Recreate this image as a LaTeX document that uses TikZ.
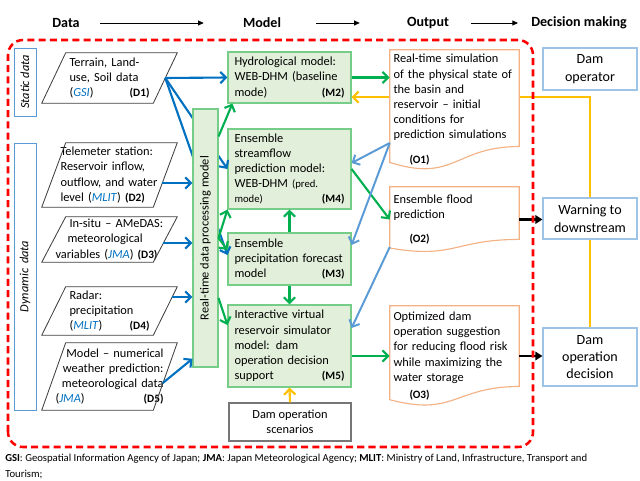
\documentclass[tikz,border=0pt]{standalone}
\usepackage{fontspec}
\setmainfont{Carlito}
\usepackage{xcolor}
\usepackage{graphicx}
\usepackage{tikz}
\usetikzlibrary{arrows.meta,calc}
\definecolor{arrowblue}{RGB}{0,112,192}
\definecolor{arrowgreen}{RGB}{0,176,80}
\definecolor{arrowyellow}{RGB}{255,192,0}
\definecolor{lightblue}{RGB}{91,155,213}
\definecolor{paleblue}{RGB}{157,195,230}
\definecolor{modelgreen}{RGB}{118,205,135}
\definecolor{modelfill}{RGB}{226,239,218}
\definecolor{outorange}{RGB}{244,177,131}
\definecolor{scengray}{RGB}{118,118,118}

\newcommand{\idtag}[1]{{\fontsize{8}{10.8}\selectfont\bfseries(#1)}}
\newcommand{\agency}[1]{\textcolor{arrowblue}{\textit{#1}}}
\newcommand{\smallfnt}{\fontsize{7.6}{10.8}\selectfont}

\tikzset{
  bodytext/.style={font=\fontsize{8.8}{10.8}\selectfont},
  head/.style={font=\bfseries\fontsize{10}{12}\selectfont, inner sep=0pt},
  headarr/.style={line width=0.5pt, -{Triangle[length=4pt,width=3.5pt]}},
  sidebox/.style={bodytext, draw=lightblue, line width=0.6pt, minimum width=0.55cm, inner sep=0pt},
  datanode/.style={bodytext, minimum width=3.375cm, inner sep=0pt},
  datashape/.style={draw=black!75, line width=0.6pt},
  modelbox/.style={bodytext, draw=modelgreen, fill=modelfill, line width=0.8pt,
    minimum width=3.075cm, text width=2.75cm, inner xsep=0.1625cm, inner ysep=0pt, align=left},
  procbox/.style={bodytext, draw=modelgreen, fill=modelfill, line width=0.8pt,
    minimum width=0.625cm, minimum height=6.45cm, inner sep=0pt},
  outbox/.style={bodytext, fill=white, minimum width=3.225cm, text width=3.05cm,
    inner xsep=0.0875cm, inner ysep=0pt, align=left},
  outshape/.style={draw=outorange, line width=0.8pt},
  decbox/.style={draw=paleblue, line width=0.8pt, fill=white, minimum width=2.35cm,
    align=center, inner sep=0pt, font=\fontsize{10}{12.4}\selectfont},
  scenbox/.style={bodytext, draw=scengray, line width=0.8pt, minimum width=3.05cm,
    minimum height=0.95cm, align=center, inner sep=0pt},
  bluearr/.style={draw=arrowblue, line width=1.5pt, -{Straight Barb[length=4pt,width=8pt]}},
  greenarr/.style={draw=arrowgreen, line width=1.5pt, -{Straight Barb[length=4pt,width=8pt]}},
  yellowarr/.style={draw=arrowyellow, line width=1.5pt, -{Straight Barb[length=4pt,width=8pt]}},
  yellowline/.style={draw=arrowyellow, line width=1.5pt},
  ltbluearr/.style={draw=lightblue, line width=1.4pt, -{Straight Barb[length=4pt,width=8pt]}},
  blackarr/.style={draw=black, line width=1.5pt, -{Triangle[length=5pt,width=6pt]}},
  redframe/.style={draw=red, line width=1.8pt, dash pattern=on 5pt off 3pt, rounded corners=0.375cm},
  foot/.style={font=\fontsize{7.6}{11}\selectfont, align=left, inner sep=0pt}
}

\begin{document}
\begin{tikzpicture}
  \useasboundingbox (0,0) rectangle (16,12);

  % header
  \node[head] (hdata) at (1.65,11.425) {Data};
  \node[head] (hmodel) at (6.55,11.425) {Model};
  \node[head] (hout) at (10.7,11.425) {Output};
  \node[head] (hdec) at (14.475,11.425) {Decision making};
  \draw[headarr] ([xshift=0.5cm]hdata.east) -- ([xshift=-0.975cm]hmodel.west);
  \draw[headarr] ([xshift=0.875cm]hmodel.east) -- ([xshift=-1.175cm]hout.west);
  \draw[headarr] ([xshift=0.55cm]hout.east) -- ([xshift=-0.325cm]hdec.west);

  % data
  \node[sidebox, minimum height=1.7cm] (static) at (0.625,9.95) {\rotatebox{90}{\itshape Static data}};
  \node[sidebox, minimum height=6.675cm] (dynamic) at (0.625,5.0875) {\rotatebox{90}{\itshape Dynamic\, data}};

  \node[datanode, minimum height=1.25cm, text width=2.0cm, align=left] (d1) at (2.7375,10.05)
    {Terrain, Land-\\use, Soil data\\(\agency{GSI})\hfill\idtag{D1}};
  \node[datanode, minimum height=1.6cm, text width=2.45cm, align=left] (d2) at (2.7375,7.625)
    {Telemeter station:\\Reservoir inflow,\\outflow, and water\\level (\agency{MLIT}) \idtag{D2}};
  \node[datanode, minimum height=1.125cm, text width=2.7cm, align=left] (d3) at (2.7375,6.0125)
    {\hspace*{0.35cm}In-situ -- AMeDAS:\\\hspace*{0.3cm}meteorological\\variables (\agency{JMA}) \idtag{D3}};
  \node[datanode, minimum height=1.2cm, text width=2.0cm, align=left] (d4) at (2.7375,4.225)
    {Radar:\\precipitation\\(\agency{MLIT})\hfill\idtag{D4}};
  \node[datanode, minimum height=1.675cm, text width=2.7cm, align=right] (d5) at (2.7375,2.5875)
    {Model -- numerical\\weather prediction:\\meteorological data\\(\agency{JMA})\hfill\idtag{D5}\hspace*{0.4cm}};
  \foreach \n in {d1,d2,d3,d4,d5}
    \draw[datashape] ([xshift=0.6cm]\n.north west) -- (\n.north east)
      -- ([xshift=-0.6cm]\n.south east) -- (\n.south west) -- cycle;

  \coordinate (d1o) at ($(d1.east)+(-0.3,0)$);
  \coordinate (d2o) at (4.05,7.425);
  \coordinate (d3o) at (4.075,5.925);
  \coordinate (d4o) at (4.3,4.575);
  \coordinate (d5o) at (4.07,2.425);

  % models
  \node[modelbox, minimum height=1.275cm] (m2) at (7.2375,10.0625)
    {Hydrological model:\\WEB-DHM (baseline\\mode)\hfill\idtag{M2}};
  \node[modelbox, minimum height=2.0cm] (m4) at (7.2375,7.775)
    {Ensemble\\streamflow\\prediction model:\\WEB-DHM {\smallfnt(pred.}\\{\smallfnt mode)}\hfill\idtag{M4}};
  \node[modelbox, minimum height=1.3cm] (m3) at (7.2375,5.525)
    {Ensemble\\precipitation forecast\\model\hfill\idtag{M3}};
  \node[modelbox, minimum height=2.05cm] (m5) at (7.2375,3.35)
    {Interactive virtual\\reservoir simulator\\model: dam\\operation decision\\support\hfill\idtag{M5}};
  \node[scenbox] (scen) at (7.25,1.45) {Dam operation\\scenarios};

  % decision making
  \node[decbox, minimum height=1.05cm] (dop) at (14.75,10.275) {Dam\\operator};
  \node[decbox, minimum height=1.025cm] (warn) at (14.75,6.5375) {Warning to\\downstream};
  \node[decbox, minimum height=1.45cm] (decis) at (14.75,3.075) {Dam\\operation\\decision};

  % lines that run behind the boxes
  \draw[bluearr] (d1o) -- (m2.west);
  \draw[bluearr] (d1o) -- (m4.west);
  \draw[bluearr] (d1o) -- ([yshift=0.1cm]m3.west);
  \draw[yellowarr] (warn.north) |- ([yshift=-0.49cm]m2.east);

  \node[procbox] (rt) at (5.1375,6.05) {\rotatebox{90}{Real-time data processing model}};

  % outputs
  \node[outbox, minimum height=3.0cm] (o1) at (11.3625,9.25)
    {Real-time simulation\\of the physical state of\\the basin and\\reservoir -- initial\\conditions for\\prediction simulations\\[0.25cm]\hspace*{0.4cm}\idtag{O1}};
  \node[outbox, minimum height=1.625cm] (o2) at (11.3625,6.5125)
    {Ensemble flood\\prediction\\[0.22cm]\hspace*{0.4cm}\idtag{O2}};
  \node[outbox, minimum height=2.5cm] (o3) at (11.3625,3.1)
    {Optimized dam\\operation suggestion\\for reducing flood risk\\while maximizing the\\water storage\\[0.05cm]\hspace*{0.4cm}\idtag{O3}};
  \foreach \n/\h in {o1/3.0,o2/1.625,o3/2.5}
    \draw[outshape] (\n.north west) -- (\n.north east) -- ([yshift=0.198*\h*1cm]\n.south east)
      .. controls ([yshift=0.198*\h*1cm]\n.south) and ([yshift=-0.107*\h*1cm]\n.south)
      .. ([yshift=0.066*\h*1cm]\n.south west) -- cycle;

  % data to processing
  \draw[bluearr] (d2o) -- (d2o -| rt.west);
  \draw[bluearr] (d3o) -- (d3o -| rt.west);
  \draw[bluearr] (d4o) -- (d4o -| rt.west);
  \draw[bluearr] (d5o) -- ([yshift=0.22cm]rt.south west);

  \draw[greenarr] ([yshift=-0.7cm]rt.north east) -- ([xshift=0.125cm]m2.south west);
  \draw[greenarr] (rt.east) -- (m4.south west);
  \draw[greenarr] (rt.east) -- ([yshift=0.225cm]m3.west);
  \draw[greenarr] ([yshift=-1.5cm]rt.east) -- ([yshift=0.525cm]m5.west);
  \draw[greenarr] (m3.north) -- (m4.south);
  \draw[greenarr] (m3.south) -- (m5.north);
  \draw[greenarr] (m2.east) -- (m2.east -| o1.west);
  \draw[greenarr] (m4.east) -- (o2.west);
  \draw[greenarr] (m5.east |- o3.west) -- (o3.west);
  \draw[yellowarr] (scen.north) -- (m5.south);

  % feedback from outputs
  \coordinate (o1l) at ([yshift=-0.825cm]o1.west);
  \draw[ltbluearr] (o1l) -- ([yshift=0.15cm]m4.east);
  \draw[ltbluearr] (o1l) -- ([yshift=0.35cm]m3.east);
  \draw[ltbluearr] ([yshift=-0.69cm]o2.west) -- ([yshift=0.45cm]m5.east);

  \draw[blackarr] (o2.east) -- (o2.east -| warn.west);
  \draw[blackarr] (o3.east) -- (o3.east -| decis.west);
  \draw[yellowline] (warn.south) -- (decis.north);

  \draw[redframe] (0.2,0.825) rectangle (13.325,11.0);

  \node[foot, anchor=west] (notes) at (0.125,0.34)
    {\textbf{GSI}: Geospatial Information Agency of Japan; \textbf{JMA}: Japan Meteorological Agency; \textbf{MLIT}: Ministry of Land, Infrastructure, Transport and\\Tourism;};
\end{tikzpicture}
\end{document}
